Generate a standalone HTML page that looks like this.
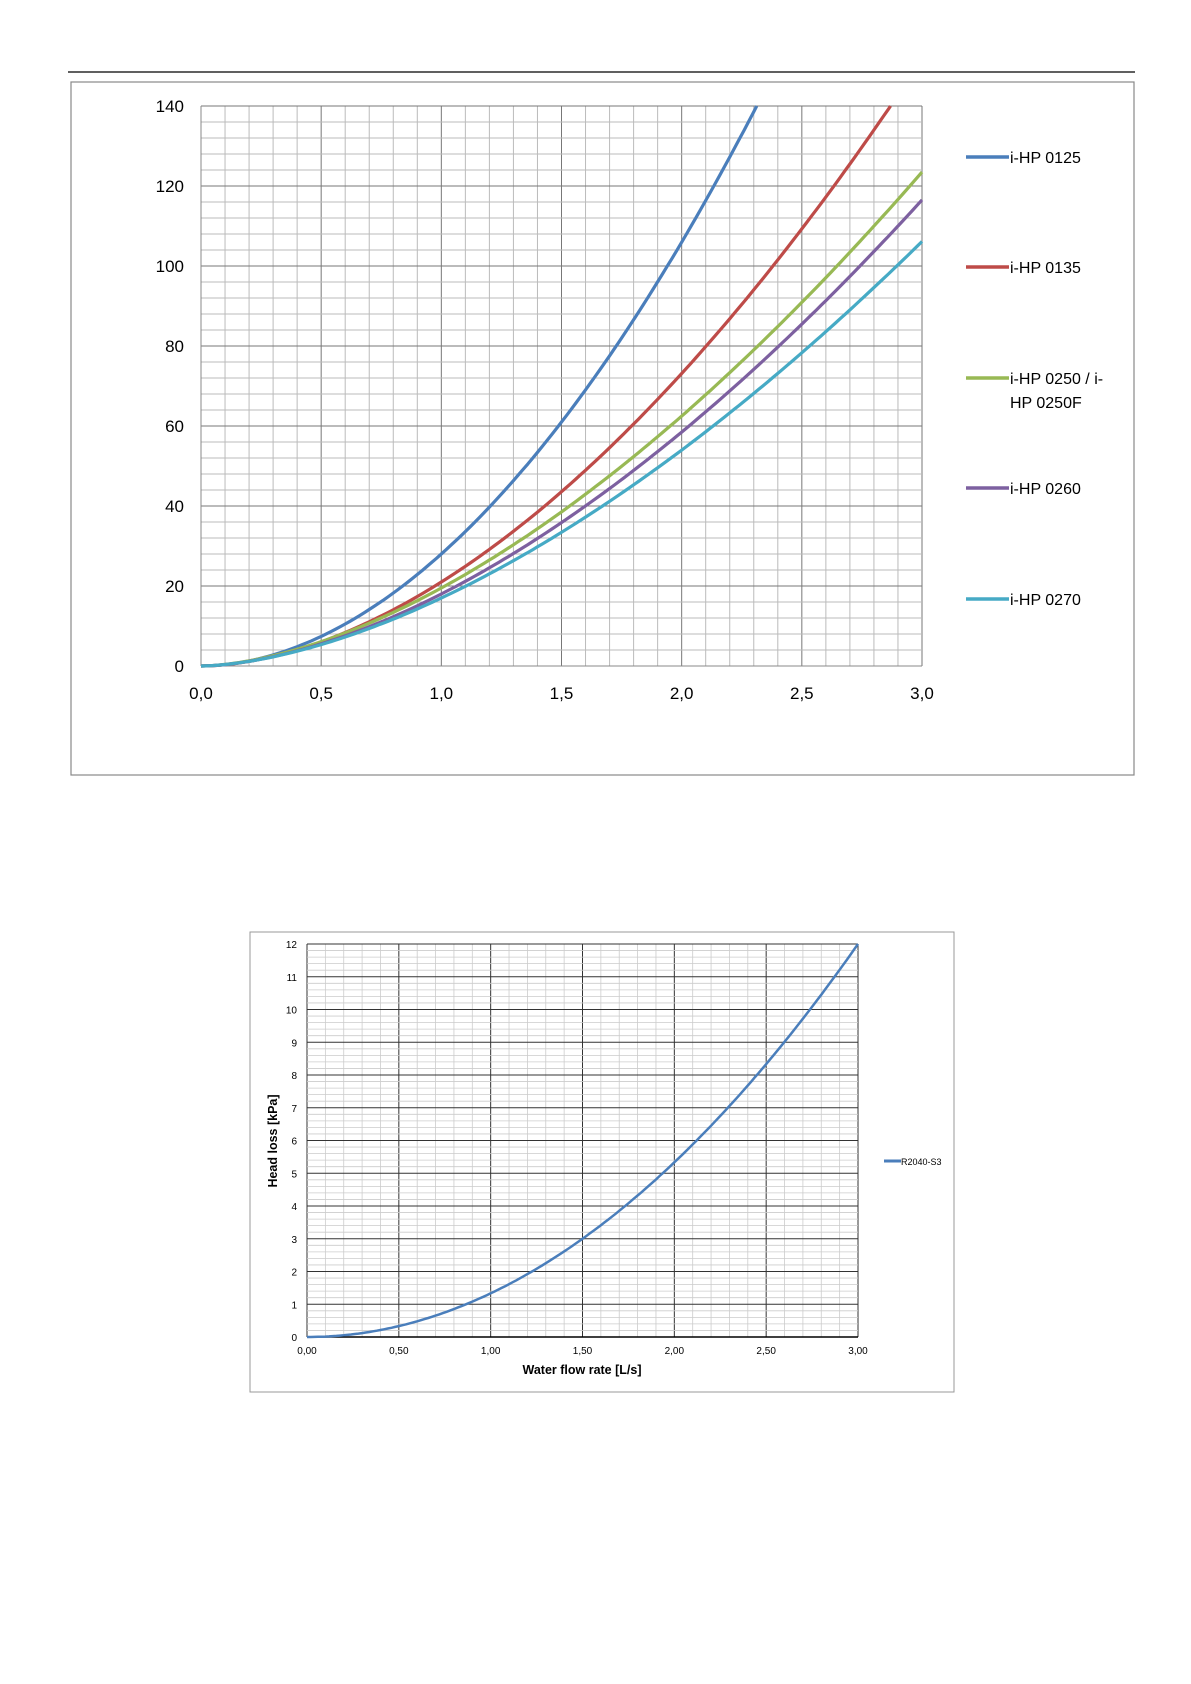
<!DOCTYPE html>
<html><head><meta charset="utf-8">
<style>
html,body{margin:0;padding:0;background:#fff;}
body{width:1191px;height:1684px;position:relative;overflow:hidden;font-family:"Liberation Sans",sans-serif;}
svg{position:absolute;left:0;top:0;}
</style></head>
<body>
<svg id="s" width="1191" height="1684" xmlns="http://www.w3.org/2000/svg"></svg>
<script>
var s=document.getElementById('s'),h='';
function L(x1,y1,x2,y2,c,w){h+='<line x1="'+x1+'" y1="'+y1+'" x2="'+x2+'" y2="'+y2+'" stroke="'+c+'" stroke-width="'+w+'"/>';}
function T(x,y,t,sz,a,extra){h+='<text x="'+x+'" y="'+y+'" font-size="'+sz+'" text-anchor="'+(a||'start')+'" fill="#000" '+(extra||'')+'>'+t+'</text>';}
// header line
L(68,72,1135,72,'#000',1.2);
// chart 1 box
h+='<rect x="71" y="82" width="1063" height="693" fill="none" stroke="#888" stroke-width="1.2"/>';
var X0=201,X1=922,Y0=666,Y1=106;
function px(x){return X0+(X1-X0)*x/3;}
function py(y){return Y0-(Y0-Y1)*y/140;}
for(var i=0;i<=30;i++){L(px(i/10),Y1,px(i/10),Y0,i%5==0?'#777':'#bbb',1);}
for(var j=0;j<=35;j++){L(X0,py(j*4),X1,py(j*4),j%5==0?'#777':'#bbb',1);}
L(X0,Y1,X0,Y0,'#888',1);L(X0,Y0,X1,Y0,'#888',1);
for(var j=0;j<=7;j++)T(184,py(j*20)+6,j*20,17,'end');
for(var i=0;i<=6;i++)T(px(i*0.5),699,(i*0.5).toFixed(1).replace('.',','),17,'middle');
var ser=[[28,1.92,'#4a7ebb'],[21,1.80,'#be4b48'],[19.5,1.68,'#98b954'],[18,1.70,'#7d60a0'],[17,1.667,'#46aac5']];
ser.forEach(function(r){var p=[];for(var x=0;x<=3.0001;x+=0.02){var y=r[0]*Math.pow(x,r[1]);if(y>140){p.push(px(Math.pow(140/r[0],1/r[1]))+','+py(140));break;}p.push(px(x).toFixed(1)+','+py(y).toFixed(1));}
h+='<polyline points="'+p.join(' ')+'" fill="none" stroke="'+r[2]+'" stroke-width="3.2" stroke-linejoin="round"/>';});
var leg=[[157,'i-HP 0125'],[267,'i-HP 0135'],[378,'i-HP 0250 / i-'],[488,'i-HP 0260'],[599,'i-HP 0270']];
leg.forEach(function(l,k){L(966,l[0],1009,l[0],ser[k][2],3.5);T(1010,l[0]+6,l[1],16);});
T(1010,408,'HP 0250F',16);
// chart 2
h+='<rect x="250" y="932" width="704" height="460" fill="none" stroke="#999" stroke-width="1"/>';
var A0=307,A1=858,B0=1337,B1=944;
function qx(x){return A0+(A1-A0)*x/3;}
function qy(y){return B0-(B0-B1)*y/12;}
for(var i=0;i<=30;i++){L(qx(i/10),B1,qx(i/10),B0,i%5==0?'#333':'#ccc',i%5==0?1:0.8);}
for(var j=0;j<=60;j++){L(A0,qy(j/5),A1,qy(j/5),j%5==0?'#333':'#ccc',j%5==0?1:0.8);}
L(A0,B0,A1,B0,'#000',1.5);
for(var j=0;j<=12;j++)T(297,qy(j)+4,j,10,'end');
for(var i=0;i<=6;i++)T(qx(i*0.5),1354,(i*0.5).toFixed(2).replace('.',','),10,'middle');
var p=[];for(var x=0;x<=3.0001;x+=0.02){p.push(qx(x).toFixed(1)+','+qy(1.3333*x*x).toFixed(1));}
h+='<polyline points="'+p.join(' ')+'" fill="none" stroke="#4a7ebb" stroke-width="2.5"/>';
T(582,1374,'Water flow rate [L/s]',12.5,'middle','font-weight="bold"');
T(277,1141,'Head loss [kPa]',12.5,'middle','font-weight="bold" transform="rotate(-90 277 1141)"');
L(884,1161,901,1161,'#4a7ebb',3);T(901,1165,'R2040-S3',9);
s.innerHTML=h;
</script>
</body></html>
